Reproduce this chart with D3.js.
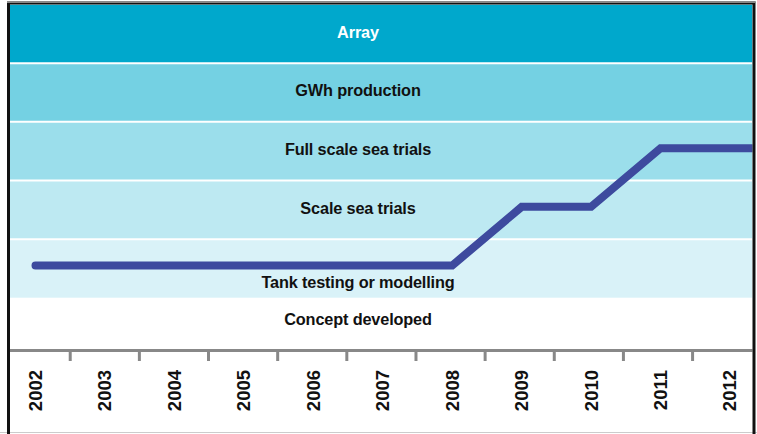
<!DOCTYPE html>
<html>
<head>
<meta charset="utf-8">
<script src="https://cdn.jsdelivr.net/npm/d3@7"></script>
<style>
  html, body { margin: 0; padding: 0; background: #fff; }
  svg { display: block; font-family: "Liberation Sans", Arial, sans-serif; }
</style>
</head>
<body>
<svg id="chart" width="757" height="434"></svg>
<script>
// Development stages, top to bottom
const stages = ["Array", "GWh production", "Full scale sea trials", "Scale sea trials", "Tank testing or modelling", "Concept developed"];
const stageColors = ["#00a8cc", "#74d1e3", "#9bdeeb", "#bde9f2", "#d9f2f8", "#ffffff"];
const stageTextColors = ["#ffffff", "#111111", "#111111", "#111111", "#111111", "#111111"];

// Years on the axis and the stage reached in each year
const years = [2002, 2003, 2004, 2005, 2006, 2007, 2008, 2009, 2010, 2011, 2012];
const stageReached = [
  "Tank testing or modelling", "Tank testing or modelling", "Tank testing or modelling",
  "Tank testing or modelling", "Tank testing or modelling", "Tank testing or modelling",
  "Tank testing or modelling", "Scale sea trials", "Scale sea trials",
  "Full scale sea trials", "Full scale sea trials"
];

const svg = d3.select("#chart");
const plot = { left: 10, right: 752.5, top: 4.5, bottom: 356.5, axisY: 350.5 };

const x = d3.scaleLinear().domain([2002, 2012]).range([35.5, 730]);
const y = d3.scaleBand().domain(stages).range([plot.top, plot.bottom]).paddingInner(0);

svg.append("defs").append("clipPath").attr("id", "plotClip")
  .append("rect")
  .attr("x", plot.left).attr("y", plot.top)
  .attr("width", plot.right - plot.left).attr("height", plot.axisY - plot.top);

// Stage bands
const g = svg.append("g").attr("clip-path", "url(#plotClip)");
g.selectAll("rect.band").data(stages).join("rect")
  .attr("class", "band")
  .attr("x", plot.left).attr("width", plot.right - plot.left)
  .attr("y", d => y(d)).attr("height", y.bandwidth())
  .attr("fill", (d, i) => stageColors[i]);

// White separators between bands
g.selectAll("line.sep").data(stages.slice(1, 5)).join("line")
  .attr("class", "sep")
  .attr("x1", plot.left).attr("x2", plot.right)
  .attr("y1", d => y(d)).attr("y2", d => y(d))
  .attr("stroke", "#fff").attr("stroke-width", 2);

// Progress line: stage reached each year, held to the right edge
const pts = years.map((yr, i) => [x(yr), y(stageReached[i]) + y.bandwidth() / 2 - 3]);
pts.push([plot.right + 10, pts[pts.length - 1][1]]);
g.append("path")
  .attr("d", d3.line()(pts))
  .attr("fill", "none")
  .attr("stroke", "#3d4a9e")
  .attr("stroke-width", 8)
  .attr("stroke-linecap", "round")
  .attr("stroke-linejoin", "miter");

// Stage labels, centred in the visible part of each band; moved below the line where it crosses
const cx = 358;
const yearIdx = d3.bisector(d => d).right(years, x.invert(cx)) - 1;
const stageAtCentre = stageReached[Math.max(0, yearIdx)];
g.selectAll("text.stage").data(stages).join("text")
  .attr("class", "stage")
  .attr("x", cx)
  .attr("y", d => {
    const top = y(d), bot = Math.min(y(d) + y.bandwidth(), plot.axisY - 5);
    let c = (top + bot) / 2 + 3.8;
    if (d === stageAtCentre) c += 15.5;
    return c;
  })
  .attr("text-anchor", "middle")
  .attr("font-size", "16.3px")
  .attr("font-weight", "bold")
  .attr("letter-spacing", "-0.15px")
  .attr("fill", (d, i) => stageTextColors[i])
  .text(d => d);

// Axis line and ticks between years
svg.append("line")
  .attr("x1", plot.left).attr("x2", plot.right)
  .attr("y1", plot.axisY).attr("y2", plot.axisY)
  .attr("stroke", "#888").attr("stroke-width", 3);
svg.selectAll("line.tick").data(years.slice(0, -1)).join("line")
  .attr("class", "tick")
  .attr("x1", d => x(d + 0.5) - 0.3 * (d - 2002)).attr("x2", d => x(d + 0.5) - 0.3 * (d - 2002))
  .attr("y1", plot.axisY).attr("y2", 361)
  .attr("stroke", "#888").attr("stroke-width", 3);

// Year labels, rotated
svg.selectAll("text.year").data(years).join("text")
  .attr("class", "year")
  .attr("transform", d => `translate(${x(d)},370) rotate(-90)`)
  .attr("text-anchor", "end")
  .attr("dy", "0.35em")
  .attr("font-size", "18.5px")
  .attr("font-weight", "bold")
  .attr("fill", "#111")
  .text(d => d);

// Frame
svg.append("line").attr("x1", 0).attr("x2", 757).attr("y1", 432.5).attr("y2", 432.5)
  .attr("stroke", "#ccc").attr("stroke-width", 1);
svg.append("path")
  .attr("d", `M${plot.left - 1.5},434 V${plot.top - 1.5} H${plot.right + 1.5} V434`)
  .attr("fill", "none").attr("stroke", "#111").attr("stroke-width", 3);
svg.append("line").attr("x1", plot.left - 3).attr("x2", plot.right + 3).attr("y1", 2).attr("y2", 2)
  .attr("stroke", "#888").attr("stroke-width", 2);
</script>
</body>
</html>
